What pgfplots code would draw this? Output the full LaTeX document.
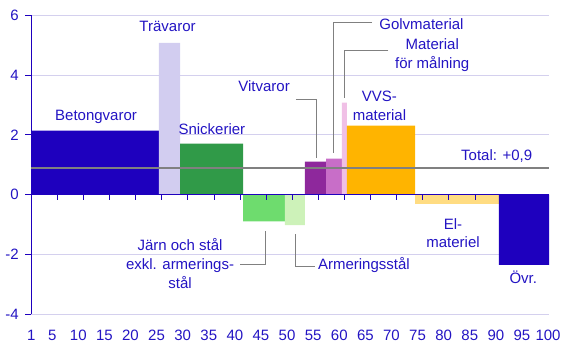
\documentclass[border=0pt]{standalone}
\usepackage{pgfplots}
\pgfplotsset{compat=1.18}
\usepackage{fontspec}
\setmainfont{Liberation Sans}
\definecolor{txt}{RGB}{35,20,195}
\definecolor{axisc}{RGB}{30,0,190}
\definecolor{betong}{RGB}{30,0,190}
\definecolor{tra}{RGB}{210,205,240}
\definecolor{snick}{RGB}{48,154,72}
\definecolor{jarn}{RGB}{110,220,110}
\definecolor{arm}{RGB}{205,242,185}
\definecolor{vit}{RGB}{142,40,156}
\definecolor{golv}{RGB}{200,110,200}
\definecolor{mal}{RGB}{240,192,230}
\definecolor{vvs}{RGB}{255,180,0}
\definecolor{el}{RGB}{255,220,130}
\definecolor{gridc}{RGB}{212,208,238}
\definecolor{totc}{RGB}{128,128,128}
\begin{document}
\begin{tikzpicture}[lbl/.style={font=\fontsize{15}{17}\selectfont, text=txt, anchor=base, inner sep=0pt},
  leader/.style={draw=totc, line width=0.8pt}]
\begin{axis}[
  scale only axis, width=517.7pt, height=299pt,
  xmin=0, xmax=99.18, ymin=-4, ymax=6,
  axis x line*=bottom, axis y line*=left,
  x axis line style={draw=none},
  y axis line style={draw=axisc, line width=0.8pt},
  xtick={0,4,9,14,19,24,29,34,39,44,49,54,59,64,69,74,79,84,89,94,99},
  xticklabels={1,5,10,15,20,25,30,35,40,45,50,55,60,65,70,75,80,85,90,95,100},
  x tick style={draw=none},
  ytick={-4,-2,0,2,4,6},
  yticklabels={-4,-2,0,2,4,6},
  y tick style={draw=axisc, line width=0.8pt},
  tick align=outside, major tick length=6pt,
  ymajorgrids, grid style={draw=gridc, line width=0.8pt},
  ticklabel style={font=\fontsize{15}{17}\selectfont, text=txt},
  xticklabel style={yshift=-6pt},
  yticklabel style={xshift=-3pt},
  clip=false,
]
\addplot[fill=betong, draw=none] coordinates {(0,0) (0,2.14) (24.46,2.14) (24.46,0)} \closedcycle;
\addplot[fill=tra, draw=none] coordinates {(24.46,0) (24.46,5.08) (28.49,5.08) (28.49,0)} \closedcycle;
\addplot[fill=snick, draw=none] coordinates {(28.49,0) (28.49,1.71) (40.56,1.71) (40.56,0)} \closedcycle;
\addplot[fill=jarn, draw=none] coordinates {(40.56,0) (40.56,-0.89) (48.6,-0.89) (48.6,0)} \closedcycle;
\addplot[fill=arm, draw=none] coordinates {(48.6,0) (48.6,-1.02) (52.43,-1.02) (52.43,0)} \closedcycle;
\addplot[fill=vit, draw=none] coordinates {(52.43,0) (52.43,1.11) (56.46,1.11) (56.46,0)} \closedcycle;
\addplot[fill=golv, draw=none] coordinates {(56.46,0) (56.46,1.21) (59.52,1.21) (59.52,0)} \closedcycle;
\addplot[fill=mal, draw=none] coordinates {(59.52,0) (59.52,3.08) (60.48,3.08) (60.48,0)} \closedcycle;
\addplot[fill=vvs, draw=none] coordinates {(60.48,0) (60.48,2.31) (73.51,2.31) (73.51,0)} \closedcycle;
\addplot[fill=el, draw=none] coordinates {(73.51,0) (73.51,-0.31) (89.6,-0.31) (89.6,0)} \closedcycle;
\addplot[fill=betong, draw=none] coordinates {(89.6,0) (89.6,-2.35) (99.18,-2.35) (99.18,0)} \closedcycle;
% total
\addplot[draw=totc, line width=2pt] coordinates {(0,0.88) (99.18,0.88)};
% labels
\node[lbl] at (axis cs:12.4,2.487) {Betongvaror};
\node[lbl] at (axis cs:26.1,5.453) {Trävaror};
\node[lbl] at (axis cs:34.6,2.01) {Snickerier};
\node[lbl] at (axis cs:44.6,3.45) {Vitvaror};
\node[lbl] at (axis cs:74.75,5.53) {Golvmaterial};
\node[lbl] at (axis cs:76.8,4.867) {Material};
\node[lbl] at (axis cs:76.8,4.223) {för målning};
\node[lbl] at (axis cs:66.7,3.12) {VVS-};
\node[lbl] at (axis cs:66.7,2.477) {material};
\node[lbl, anchor=base east] at (axis cs:96.0,1.153) {Total: +0,9};
\node[lbl] at (axis cs:28.5,-1.867) {Järn och stål};
\node[lbl] at (axis cs:28.5,-2.51) {exkl. armerings-};
\node[lbl] at (axis cs:28.5,-3.13) {stål};
\node[lbl, anchor=base west] at (axis cs:54.9,-2.49) {Armeringsstål};
\node[lbl] at (axis cs:80.8,-1.157) {El-};
\node[lbl] at (axis cs:80.8,-1.767) {materiel};
\node[lbl] at (axis cs:94.25,-2.97) {Övr.};
% leaders
\draw[leader] (axis cs:50.7,3.18) -- (axis cs:54.7,3.18) -- (axis cs:54.7,1.24);
\draw[leader] (axis cs:65.3,5.77) -- (axis cs:57.8,5.77) -- (axis cs:57.8,1.38);
\draw[leader] (axis cs:68.4,4.82) -- (axis cs:60.0,4.82) -- (axis cs:60.0,3.22);
\draw[leader] (axis cs:40.0,-2.33) -- (axis cs:44.9,-2.33) -- (axis cs:44.9,-1.23);
\draw[leader] (axis cs:50.6,-1.33) -- (axis cs:50.6,-2.39) -- (axis cs:54.3,-2.39);
\end{axis}
\begin{axis}[
  scale only axis, width=517.7pt, height=299pt,
  xmin=0, xmax=99.18, ymin=-4, ymax=6,
  axis x line=middle, axis y line=none,
  x axis line style={draw=axisc, line width=0.8pt, -},
  xtick={5,10,...,95}, xticklabels={},
  x tick style={draw=axisc, line width=0.8pt},
  tick align=outside, major tick length=5pt,
  ytick=\empty,
]
\addplot[draw=none] coordinates {(0,0) (99.18,0)};
\end{axis}
\pgfresetboundingbox
\useasboundingbox (-31.3pt,-35.7pt) rectangle (537.7pt,314.3pt);
\end{tikzpicture}
\end{document}
